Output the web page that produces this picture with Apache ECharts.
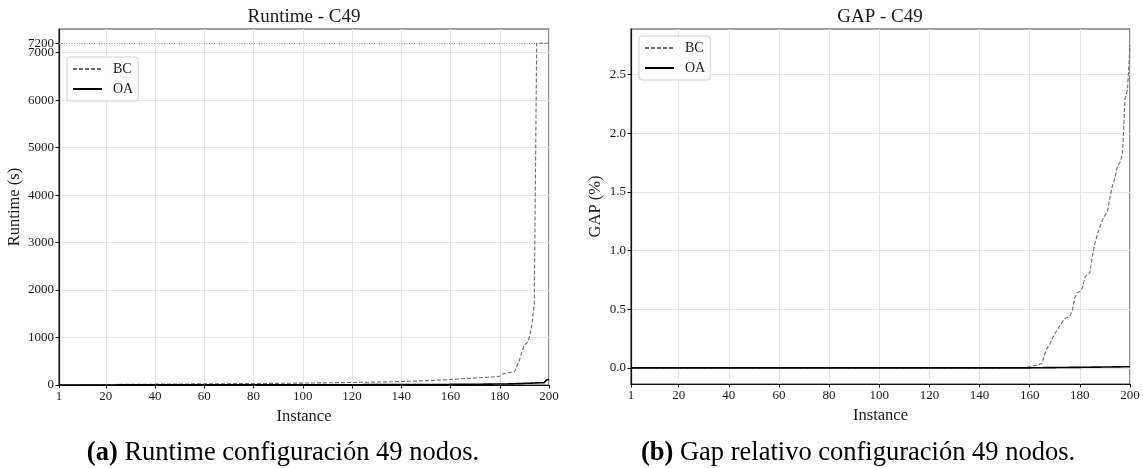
<!DOCTYPE html>
<html><head><meta charset="utf-8">
<script src="https://cdn.jsdelivr.net/npm/echarts@6/dist/echarts.min.js"></script>
<style>html,body{margin:0;padding:0;background:#fff}#c{width:1143px;height:468px}</style>
</head><body><div id="c"></div>
<script>
// Runtime (s) per instance, sorted, configuration C49
const runtimeBC = [
  2,3,3,4,4,5,5,6,6,7,7,8,8,8,9,9,10,10,11,11,
  11,12,12,12,13,13,13,14,14,14,15,15,15,16,16,16,17,17,17,18,
  18,18,19,19,19,20,20,20,21,21,21,22,22,22,23,23,23,24,24,24,
  25,25,25,26,26,26,27,27,27,28,28,28,29,29,29,30,30,31,31,31,
  32,32,32,33,33,34,34,35,35,35,36,36,37,37,38,38,39,39,40,40,
  41,41,42,42,43,44,44,45,45,46,47,47,48,49,49,50,51,52,52,53,
  54,55,56,57,57,58,59,60,61,62,63,64,65,66,67,68,70,71,72,74,
  75,77,78,80,82,84,86,88,90,92,94,96,98,100,103,106,109,112,115,118,
  121,124,127,130,133,136,139,142,145,148,151,154,157,160,163,166,170,174,178,184,
  230,240,255,262,268,280,400,520,700,850,880,1000,1250,1700,7200,7200,7200,7200,7200,7200
];
const runtimeOA = [
  0.3,0.4,0.5,0.5,0.6,0.6,0.7,0.7,0.8,0.8,0.9,0.9,1.0,1.0,1.1,1.1,1.2,1.2,1.3,1.3,
  1.4,1.4,1.5,1.5,1.6,1.6,1.7,1.7,1.8,1.8,1.9,1.9,2.0,2.0,2.1,2.1,2.2,2.2,2.3,2.3,
  2.4,2.4,2.5,2.5,2.6,2.6,2.7,2.7,2.8,2.8,2.9,2.9,3.0,3.0,3.1,3.1,3.2,3.2,3.3,3.3,
  3.4,3.4,3.5,3.5,3.6,3.6,3.7,3.7,3.8,3.8,3.9,3.9,4.0,4.0,4.1,4.1,4.2,4.2,4.3,4.3,
  4.4,4.4,4.5,4.5,4.6,4.6,4.7,4.7,4.8,4.8,4.9,4.9,5.0,5.0,5.1,5.1,5.2,5.2,5.3,5.3,
  5.4,5.4,5.5,5.5,5.6,5.6,5.7,5.7,5.8,5.8,5.9,5.9,6.0,6.0,6.1,6.1,6.2,6.2,6.3,6.4,
  6.5,6.6,6.7,6.8,6.9,7.0,7.1,7.2,7.3,7.4,7.5,7.6,7.7,7.8,7.9,8.0,8.1,8.2,8.3,8.4,
  8.5,8.6,8.7,8.8,8.9,9.0,9.2,9.4,9.6,9.8,10,10.2,10.4,10.6,10.8,11,11.3,11.6,11.9,12.2,
  12.5,12.8,13.1,13.4,13.7,14,14.4,14.8,15.2,15.6,16,16.5,17,17.5,18,18.5,19,19.5,20,20.5,
  21,21.5,22,23,24,26,28,30,32,34,36,38,40,42,44,46,47,50,105,120
];
// Relative GAP (%) per instance, sorted
const gapBC = [
  0,0,0,0,0,0,0,0,0,0,0,0,0,0,0,0,0,0,0,0,
  0,0,0,0,0,0,0,0,0,0,0,0,0,0,0,0,0,0,0,0,
  0,0,0,0,0,0,0,0,0,0,0,0,0,0,0,0,0,0,0,0,
  0,0,0,0,0,0,0,0,0,0,0,0,0,0,0,0,0,0,0,0,
  0,0,0,0,0,0,0,0,0,0,0,0,0,0,0,0,0,0,0,0,
  0,0,0,0,0,0,0,0,0,0,0,0,0,0,0,0,0,0,0,0,
  0,0,0,0,0,0,0,0,0,0,0,0,0,0,0,0,0,0,0,0,
  0,0,0,0,0,0,0,0,0,0.001,0.001,0.001,0.001,0.001,0.002,0.002,0.002,0.003,0.006,0.01,
  0.015,0.02,0.025,0.03,0.04,0.12,0.17,0.2,0.25,0.29,0.32,0.36,0.39,0.42,0.43,0.44,0.49,0.6,0.64,0.65,
  0.68,0.77,0.8,0.81,0.95,1.06,1.14,1.2,1.26,1.3,1.33,1.45,1.55,1.62,1.72,1.75,1.82,2.29,2.37,2.75
];
const gapOA = [
  0,0,0,0,0,0,0,0,0,0,0,0,0,0,0,0,0,0,0,0,
  0,0,0,0,0,0,0,0,0,0,0,0,0,0,0,0,0,0,0,0,
  0,0,0,0,0,0,0,0,0,0,0,0,0,0,0,0,0,0,0,0,
  0,0,0,0,0,0,0,0,0,0,0,0,0,0,0,0,0,0,0,0,
  0,0,0,0,0,0,0,0,0,0,0,0,0,0,0,0,0,0,0,0,
  0,0,0,0,0,0,0,0,0,0,0,0,0,0,0,0,0,0,0,0,
  0,0,0,0,0,0,0,0,0,0,0,0,0,0,0,0,0,0,0,0,
  0,0,0,0,0,0,0,0,0,0,0,0,0,0,0,0,0,0,0,0,
  0.001,0.001,0.001,0.001,0.001,0.002,0.002,0.002,0.002,0.002,0.003,0.003,0.003,0.003,0.003,0.004,0.004,0.004,0.004,0.004,
  0.005,0.005,0.005,0.005,0.006,0.006,0.006,0.006,0.007,0.007,0.007,0.007,0.008,0.008,0.008,0.008,0.009,0.009,0.009,0.01
];
const xTicks = [1,20,40,60,80,100,120,140,160,180,200];
const yTicksRuntime = [0,1000,2000,3000,4000,5000,6000,7000];
const yTickLimit = [7200];
const yTicksGap = [0,0.5,1.0,1.5,2.0,2.5];
const timeLimit = 7200;
const seriesNames = ['BC','OA'];
const titles = ['Runtime - C49','GAP - C49'];
const yNames = ['Runtime (s)','GAP (%)'];
const captions = [['(a)',' Runtime configuración 49 nodos.'],['(b)',' Gap relativo configuración 49 nodos.']];

const FONT = '"Liberation Serif","DejaVu Serif",serif';
const TXT = '#1a1a1a';
const toPairs = arr => arr.map((v,i)=>[i+1,v]);

function mkX(gi){
  return {type:'value',gridIndex:gi,min:1,max:200,
    name:'Instance',nameLocation:'middle',nameGap:18,
    nameTextStyle:{fontFamily:FONT,fontSize:16.5,color:TXT},
    axisLine:{show:true,onZero:false,lineStyle:{color:'#111',width:1.2}},
    axisTick:{show:true,length:3.5,customValues:xTicks,lineStyle:{color:'#111',width:1}},
    axisLabel:{customValues:xTicks,fontFamily:FONT,fontSize:13,color:TXT,margin:5,hideOverlap:false,formatter:v=>String(v)},
    splitLine:{show:true,lineStyle:{color:'#e6e6e6',width:1}}};
}
function mkY(gi,min,max,ticks,name,fmt,gap){
  return {type:'value',gridIndex:gi,min:min,max:max,
    name:name,nameLocation:'middle',nameGap:gap,nameRotate:90,
    nameTextStyle:{fontFamily:FONT,fontSize:16.5,color:TXT},
    axisLine:{show:true,onZero:false,lineStyle:{color:'#111',width:1.2}},
    axisTick:{show:true,length:3.5,customValues:ticks,lineStyle:{color:'#111',width:1}},
    axisLabel:{customValues:ticks,fontFamily:FONT,fontSize:13,color:TXT,margin:5,formatter:fmt,hideOverlap:false},
    splitLine:{show:true,lineStyle:{color:'#e6e6e6',width:1}}};
}
// extra left axis carrying only the time-limit tick (7200), overlapping 7000 as in the original
function mkLimitAxis(gi,min,max){
  return {type:'value',gridIndex:gi,min:min,max:max,position:'left',offset:0,
    axisLine:{show:false},
    axisTick:{show:true,length:3.5,customValues:yTickLimit,lineStyle:{color:'#111',width:1}},
    axisLabel:{customValues:yTickLimit,fontFamily:FONT,fontSize:13,color:TXT,margin:5,hideOverlap:false,formatter:v=>String(v)},
    splitLine:{show:false}};
}
const bcStyle = {color:'#6e6e6e',width:1.1,type:[4,2]};
const oaStyle = {color:'#000',width:1.6,type:'solid'};
function mkSeries(name,data,gi,style,extra){
  return Object.assign({type:'line',name:name,xAxisIndex:gi,yAxisIndex:gi,data:toPairs(data),
    showSymbol:false,symbol:'none',lineStyle:style,itemStyle:{color:style.color},animation:false,z:style.type==='solid'?3:2},extra||{});
}
function mkLegend(left,top){
  return {orient:'vertical',left:left,top:top,data:seriesNames,itemWidth:29,itemHeight:14,itemGap:6,
    padding:[5,5,5,5],borderColor:'#d0d0d0',borderWidth:1,borderRadius:3,backgroundColor:'rgba(255,255,255,0.85)',
    itemStyle:{opacity:0},
    textStyle:{fontFamily:FONT,fontSize:14,lineHeight:14,color:TXT,padding:[0,0,0,6]},selectedMode:false};
}
const option = {
  backgroundColor:'#fff',
  animation:false,
  grid:[
    {left:59,right:594,top:29,bottom:83,show:true,borderColor:'#444',borderWidth:1.2,backgroundColor:'transparent'},
    {left:631,right:13,top:29,bottom:84,show:true,borderColor:'#444',borderWidth:1.2,backgroundColor:'transparent'}
  ],
  xAxis:[mkX(0),mkX(1)],
  yAxis:[
    mkY(0,0,7500,yTicksRuntime,yNames[0],v=>String(v),36),
    mkY(1,-0.1375,2.8875,yTicksGap,yNames[1],v=>v.toFixed(1),27),
    mkLimitAxis(0,0,7500)
  ],
  legend:[mkLegend(67,57),mkLegend(639,36)],
  series:[
    mkSeries(seriesNames[0],runtimeBC,0,bcStyle,{markLine:{silent:true,symbol:'none',label:{show:false},
      lineStyle:{color:'#8a8a8a',width:0.9,type:[1,1.5]},data:[{yAxis:timeLimit}]}}),
    mkSeries(seriesNames[1],runtimeOA,0,oaStyle),
    mkSeries(seriesNames[0],gapBC,1,bcStyle),
    mkSeries(seriesNames[1],gapOA,1,oaStyle)
  ],
  graphic:[
    {type:'text',x:304,y:17,style:{text:titles[0],font:'19px '+FONT,fill:TXT,textAlign:'center',textVerticalAlign:'middle'}},
    {type:'text',x:880,y:17,style:{text:titles[1],font:'19px '+FONT,fill:TXT,textAlign:'center',textVerticalAlign:'middle'}},
    {type:'text',x:283,y:453,style:{text:'{b|'+captions[0][0]+'}{r|'+captions[0][1]+'}',textAlign:'center',textVerticalAlign:'middle',
      rich:{b:{fontFamily:FONT,fontSize:26.5,fontWeight:'bold',fill:'#000'},r:{fontFamily:FONT,fontSize:26.5,fill:'#000'}}}},
    {type:'text',x:858,y:453,style:{text:'{b|'+captions[1][0]+'}{r|'+captions[1][1]+'}',textAlign:'center',textVerticalAlign:'middle',
      rich:{b:{fontFamily:FONT,fontSize:26.5,fontWeight:'bold',fill:'#000'},r:{fontFamily:FONT,fontSize:26.5,fill:'#000'}}}}
  ]
};
const chart = echarts.init(document.getElementById('c'),null,{renderer:'canvas'});
chart.setOption(option);
</script>
</body></html>
